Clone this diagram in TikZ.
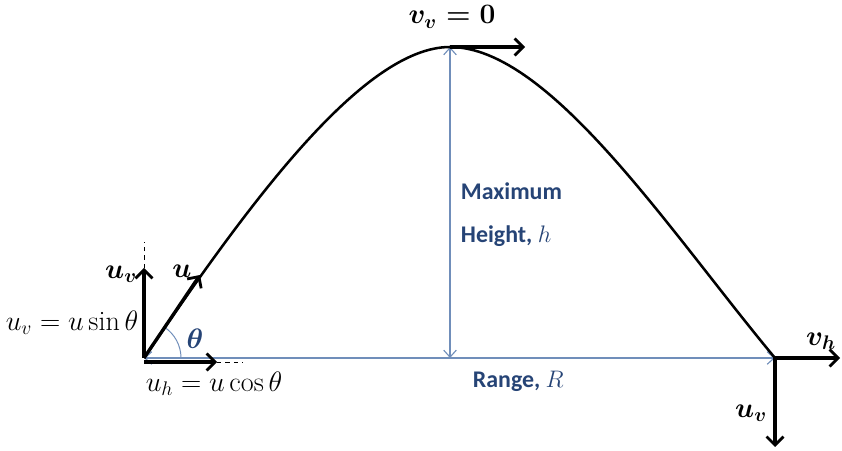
\RequirePackage{fix-cm}
\documentclass[tikz,border=0pt]{standalone}
\usepackage{amsmath}
\usepackage{fontspec}
\newfontfamily\labelfont{Carlito}
\usetikzlibrary{arrows.meta}

\definecolor{dimline}{RGB}{112,142,186}
\definecolor{dimtext}{RGB}{38,68,118}

\tikzset{
  vec/.style={line width=2.4pt, -{Straight Barb[length=6pt,width=12pt,line width=2pt]}},
  dim/.style={dimline, line width=0.8pt, {Straight Barb[length=5pt,width=9pt]}-{Straight Barb[length=5pt,width=9pt]}},
  guide/.style={dashed, line width=0.6pt},
  lbl/.style={font=\fontsize{20}{24}\selectfont, inner sep=1pt},
  txt/.style={dimtext, font=\labelfont\bfseries\fontsize{17}{20}\selectfont}
}

\begin{document}
\begin{tikzpicture}[x=0.025cm, y=-0.025cm]
            \useasboundingbox (0,0) rectangle (842,451);
            \coordinate (O) at (144,358);
            \coordinate (Ob) at (144,362);
            \coordinate (P) at (450,47);
            \coordinate (G) at (450,358);
            \coordinate (L) at (775,358);
            \coordinate (Uv) at (144,268);
            \coordinate (U) at (200,275);
            \coordinate (Uh) at (217,362);
            \coordinate (Vv) at (525,47);
            \coordinate (Vh) at (840,358);
            \coordinate (Dv) at (775,447);
            % range and height
            \draw[dim] (O) -- (L);
            \draw[dim] (P) -- (G);
            % path
            \draw[line width=1.8pt] (O) .. controls (245,209) and (362,47) .. (P)
                                        .. controls (550,47) and (670,232) .. (L);
            % launch
            \draw[guide] (Uv) -- (144,242);
            \draw[guide] (Uh) -- (243,362);
            \draw[dimline, line width=0.7pt] (O) ++(37,0) arc[start angle=0, end angle=-57, radius=37];
            \draw[vec] (O) -- (Uv);
            \draw[vec] (O) -- (U);
            \draw[vec] (Ob) -- (Uh);
            % top and landing
            \draw[vec] (P) -- (Vv);
            \draw[vec] (L) -- (Vh);
            \draw[vec] (L) -- (Dv);
            \node[lbl] (uvtop) at (121,274) {$\boldsymbol{u_v}$};
            \node[lbl] (ulbl) at (182,271) {$\boldsymbol{u}$};
            \node[lbl] (uveq) at (72,323) {$u_v = u\sin\theta$};
            \node[lbl] (uheq) at (214,384) {$u_h = u\cos\theta$};
            \node[lbl, dimtext] (th) at (195,339) {$\boldsymbol{\theta}$};
            \node[lbl] (vv) at (452,17) {$\boldsymbol{v_v = 0}$};
            \node[lbl] (vh) at (821,341) {$\boldsymbol{v_h}$};
            \node[lbl] (uvbot) at (751,413) {$\boldsymbol{u_v}$};
            \node[txt, anchor=base west] (maxh) at (456,200) {Maximum};
            \node[txt, anchor=base west] (hgt) at (456,243) {Height, $h$};
            \node[txt, anchor=base west] (range) at (468,388) {Range, $R$};
        \end{tikzpicture}
\end{document}
